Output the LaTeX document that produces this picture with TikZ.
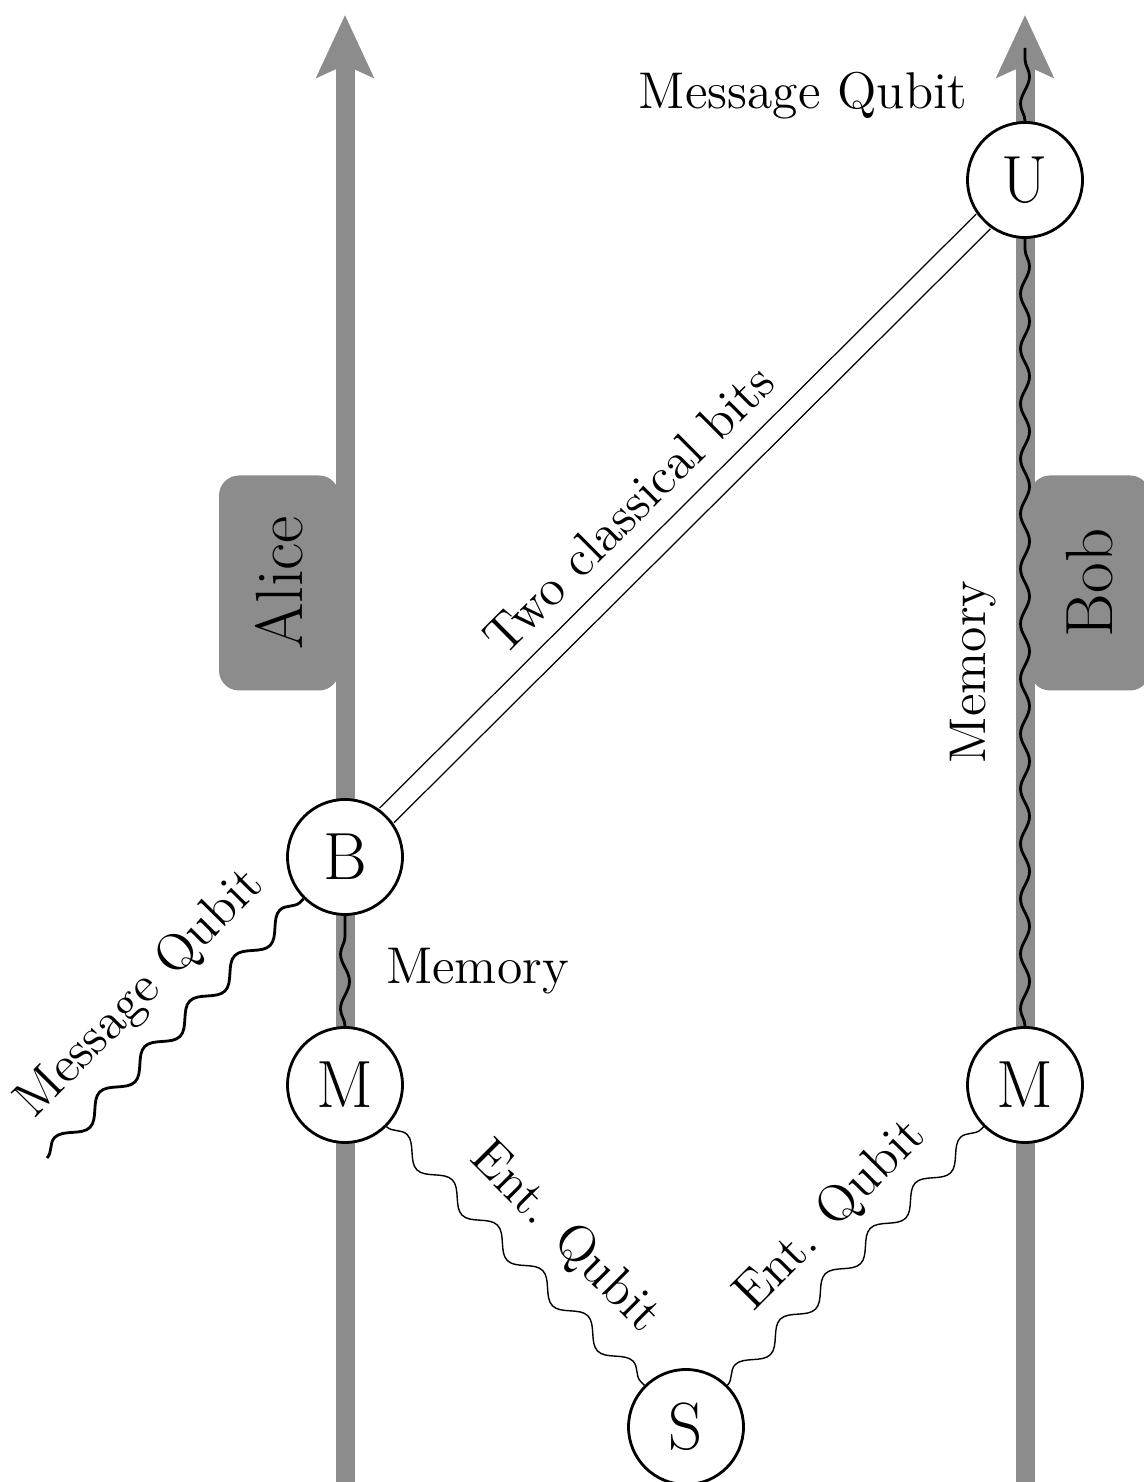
\documentclass[tikz,border=0pt]{standalone}
\usepackage{tikz}
\usetikzlibrary{shapes}
\usetikzlibrary{calc}
\usetikzlibrary{arrows.meta}
\usetikzlibrary{decorations.pathmorphing}
\usetikzlibrary{positioning}
\tikzset{vertex/.style={circle, draw, thick, fill=white, minimum size=1.15cm, inner sep=0pt, font=\fontsize{19}{23}\selectfont}}
\tikzset{party/.style={rectangle, rounded corners=.2cm, fill=black!45, rotate=90, minimum width=2.15cm, minimum height=1.2cm, font=\fontsize{19}{23}\selectfont}}
\tikzset{timeline/.style={line width=.19cm, draw=black!45, -{Stealth[length=6.2mm, width=5.6mm, inset=1.2mm]}}}
\tikzset{qubit/.style={decorate, decoration={snake, amplitude=.09cm, segment length=.64cm}}}
\tikzset{memory/.style={thick, decorate, decoration={snake, amplitude=.045cm, segment length=.55cm}}}
\tikzset{classical/.style={thin, double, double distance=1.9mm}}
\tikzset{lab/.style={font=\fontsize{14.7}{18}\selectfont}}

\begin{document}
\begin{tikzpicture}
  \useasboundingbox (0,0) rectangle (11.43,14.82);
  % parties
  \node[party] (alice) at (2.79,8.99) {Alice};
  \node[party] (bob) at (10.90,8.99) {Bob};
  \coordinate (abot) at (3.45,0);
  \coordinate (atop) at (3.45,14.67);
  \coordinate (bbot) at (10.25,0);
  \coordinate (btop) at (10.25,14.67);
  \draw[timeline] (abot) -- (atop);
  \draw[timeline] (bbot) -- (btop);
  % operations
  \foreach \x/\y/\lab/\txt in {
    10.25/13.02/U/U,
    3.45/6.25/B/B,
    3.45/3.97/MA/M,
    10.25/3.97/MB/M,
    6.86/.55/S/S%
  } {
    \node[vertex] (\lab) at (\x, \y) {\txt};
  }
  \coordinate (msgin) at (0.47,3.24);
  \coordinate (msgout) at (10.25,14.34);
  % qubits and bits
  \draw[classical] (B) -- node[lab, sloped, above=.16cm, pos=.46] {Two classical bits} (U);
  \draw[thick, qubit] (msgin) -- node[lab, sloped, above=.12cm, pos=.5] {Message Qubit} (B);
  \draw[memory] (MA) -- node[lab, right=.28cm] {Memory} (B);
  \draw[memory] (MB) -- node[lab, sloped, above=.16cm, pos=.45] {Memory} (U);
  \draw[memory] (U) -- node[lab, left=.45cm, pos=.35] {Message Qubit} (msgout);
  \draw[thin, qubit] (MA) -- node[lab, sloped, above=.12cm, pos=.56] {Ent. Qubit} (S);
  \draw[thin, qubit] (S) -- node[lab, sloped, above=.1cm, pos=.53] {Ent. Qubit} (MB);
\end{tikzpicture}
\end{document}
